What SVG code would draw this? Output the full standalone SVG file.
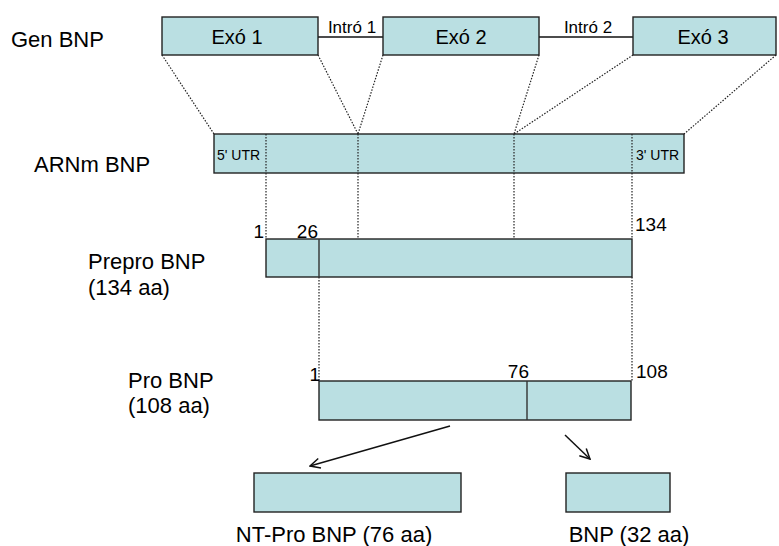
<svg xmlns="http://www.w3.org/2000/svg" width="779" height="546" viewBox="0 0 779 546">
<defs>
<style>
.box{fill:#badfe2;stroke:#222;stroke-width:1.4}
.div{stroke:#333;stroke-width:1.4}
.dot{stroke:#222;stroke-width:1.2;stroke-dasharray:1.5 1.5;fill:none}
.lbl{font-family:"Liberation Sans",Arial,sans-serif;font-size:22px;fill:#000}
.ex{font-family:"Liberation Sans",Arial,sans-serif;font-size:20px;fill:#000;text-anchor:middle}
.in{font-family:"Liberation Sans",Arial,sans-serif;font-size:17px;fill:#000;text-anchor:middle}
.utr{font-family:"Liberation Sans",Arial,sans-serif;font-size:14px;fill:#000}
.num{font-family:"Liberation Sans",Arial,sans-serif;font-size:19px;fill:#000}
.arr{stroke:#111;stroke-width:1.5;fill:none;marker-end:url(#ah)}
</style>
<marker id="ah" viewBox="0 0 12 12" refX="11" refY="6" markerWidth="12" markerHeight="12" markerUnits="userSpaceOnUse" orient="auto">
<path d="M1,1 L11,6 L1,11" fill="none" stroke="#111" stroke-width="1.5"/>
</marker>
</defs>
<rect width="779" height="546" fill="#fff"/>

<g id="labels">
<text class="lbl" x="11" y="47">Gen BNP</text>
<text class="lbl" x="34" y="172">ARNm BNP</text>
<text class="lbl" x="88" y="269">Prepro BNP</text>
<text class="lbl" x="88" y="295">(134 aa)</text>
<text class="lbl" x="128" y="388">Pro BNP</text>
<text class="lbl" x="128" y="413">(108 aa)</text>
</g>

<g id="connectors">
<line x1="318" y1="37" x2="383" y2="37" stroke="#111" stroke-width="1.3"/>
<line x1="539" y1="37" x2="633" y2="37" stroke="#111" stroke-width="1.3"/>
<line class="dot" x1="162" y1="55" x2="214" y2="134"/>
<line class="dot" x1="318" y1="55" x2="358" y2="134"/>
<line class="dot" x1="383" y1="55" x2="358" y2="134"/>
<line class="dot" x1="539" y1="55" x2="514" y2="134"/>
<line class="dot" x1="633" y1="55" x2="514" y2="134"/>
<line class="dot" x1="776" y1="55" x2="684" y2="134"/>
<line class="dot" x1="266" y1="134" x2="266" y2="239"/>
<line class="dot" x1="358" y1="134" x2="358" y2="239"/>
<line class="dot" x1="514" y1="134" x2="514" y2="239"/>
<line class="dot" x1="632" y1="134" x2="632" y2="239"/>
<line class="dot" x1="319" y1="277" x2="319" y2="381"/>
<line class="dot" x1="632" y1="277" x2="632" y2="381"/>
<line class="arr" x1="450" y1="426" x2="310" y2="466"/>
<line class="arr" x1="565" y1="435" x2="590" y2="459"/>
</g>

<g id="exo1">
<rect class="box" x="162" y="17" width="156" height="38"/>
<text class="ex" x="237" y="44">Exó 1</text>
</g>
<g id="intro1"><text class="in" x="352" y="33">Intró 1</text></g>
<g id="exo2">
<rect class="box" x="383" y="17" width="156" height="38"/>
<text class="ex" x="461" y="44">Exó 2</text>
</g>
<g id="intro2"><text class="in" x="588" y="33">Intró 2</text></g>
<g id="exo3">
<rect class="box" x="633" y="17" width="143" height="38"/>
<text class="ex" x="703" y="44">Exó 3</text>
</g>

<g id="arnm">
<rect class="box" x="214" y="134" width="470" height="39"/>
<line class="dot" x1="266" y1="134" x2="266" y2="173"/>
<line class="dot" x1="358" y1="134" x2="358" y2="173"/>
<line class="dot" x1="514" y1="134" x2="514" y2="173"/>
<line class="dot" x1="632" y1="134" x2="632" y2="173"/>
<text class="utr" x="217" y="160">5' UTR</text>
<text class="utr" x="636" y="160">3' UTR</text>
</g>

<g id="prepro">
<rect class="box" x="266" y="239" width="366" height="38"/>
<line class="div" x1="319" y1="239" x2="319" y2="277"/>
<text class="num" x="264" y="238" text-anchor="end">1</text>
<text class="num" x="318" y="238" text-anchor="end">26</text>
<text class="num" x="635" y="231">134</text>
</g>

<g id="pro">
<rect class="box" x="319" y="381" width="312" height="39"/>
<line class="div" x1="527" y1="381" x2="527" y2="420"/>
<text class="num" x="320" y="381" text-anchor="end">1</text>
<text class="num" x="529" y="378" text-anchor="end">76</text>
<text class="num" x="636" y="378">108</text>
</g>

<g id="ntprobnp">
<rect class="box" x="254" y="473" width="207" height="39"/>
<text class="lbl" x="334" y="542" text-anchor="middle">NT-Pro BNP (76 aa)</text>
</g>
<g id="bnp">
<rect class="box" x="566" y="473" width="104" height="39"/>
<text class="lbl" x="629" y="542" text-anchor="middle">BNP (32 aa)</text>
</g>
</svg>
